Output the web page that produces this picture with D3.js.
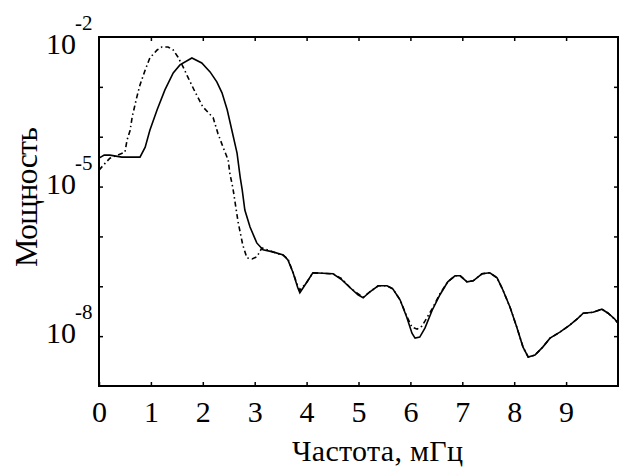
<!DOCTYPE html>
<html>
<head>
<meta charset="utf-8">
<script src="https://cdn.jsdelivr.net/npm/d3@7"></script>
<style>
  body { margin: 0; background: #fff; }
  text { font-family: "Liberation Serif", "Times New Roman", serif; fill: #000; }
</style>
</head>
<body>
<svg id="chart"></svg>
<script>
// frequency (MHz) and log10 of power
const freqSolid = [0.00, 0.10, 0.21, 0.44, 0.79, 0.89, 0.98, 1.12, 1.27, 1.43, 1.56, 1.79, 1.98, 2.14, 2.27,
  2.37, 2.47, 2.56, 2.66, 2.72, 2.76, 2.81, 2.91, 3.04, 3.16, 3.35, 3.55, 3.64, 3.74, 3.83, 3.87, 4.01,
  4.12, 4.51, 4.68, 4.84, 4.99, 5.09, 5.22, 5.38, 5.55, 5.66, 5.80, 5.93, 6.03, 6.09, 6.18, 6.28, 6.42,
  6.57, 6.72, 6.86, 6.96, 7.09, 7.21, 7.38, 7.53, 7.67, 7.78, 7.92, 8.05, 8.17, 8.27, 8.40, 8.55, 8.69,
  8.88, 9.07, 9.23, 9.33, 9.52, 9.69, 9.81, 9.94, 10.0];
const powSolid = [-4.43, -4.37, -4.37, -4.41, -4.41, -4.21, -3.87, -3.46, -3.06, -2.72, -2.56, -2.42, -2.52, -2.70, -2.90,
  -3.12, -3.46, -3.87, -4.33, -4.81, -5.07, -5.47, -5.81, -6.13, -6.27, -6.31, -6.37, -6.47, -6.73, -7.03, -7.13, -6.91,
  -6.73, -6.75, -6.87, -7.03, -7.17, -7.23, -7.11, -6.99, -6.99, -7.05, -7.27, -7.62, -7.94, -8.04, -8.02, -7.84, -7.48,
  -7.17, -6.91, -6.79, -6.79, -6.91, -6.89, -6.75, -6.73, -6.83, -7.07, -7.42, -7.82, -8.22, -8.42, -8.38, -8.22, -8.04,
  -7.92, -7.78, -7.64, -7.54, -7.52, -7.46, -7.54, -7.66, -7.74];

const freqDash = [0.00, 0.12, 0.21, 0.50, 0.54, 0.60, 0.64, 0.73, 0.79, 0.89, 0.98, 1.12, 1.21, 1.33, 1.43, 1.52,
  1.62, 1.71, 1.85, 2.00, 2.20, 2.29, 2.39, 2.49, 2.52, 2.58, 2.68, 2.77, 2.85, 2.95, 3.04, 3.14, 3.35, 3.55,
  3.64, 3.74, 3.83, 3.87, 4.01, 4.12, 4.51, 4.68, 4.84, 4.99, 5.09, 5.22, 5.38, 5.55, 5.66, 5.80, 5.93, 6.03,
  6.13, 6.22, 6.28, 6.42, 6.57, 6.72, 6.86, 6.96, 7.09, 7.21, 7.38, 7.53, 7.67, 7.78, 7.92, 8.05, 8.17, 8.27,
  8.40, 8.55, 8.69, 8.88, 9.07, 9.23, 9.33, 9.52, 9.69, 9.81, 9.94, 10.0];
const powDash = [-4.67, -4.53, -4.43, -4.31, -4.07, -3.87, -3.60, -3.20, -2.96, -2.66, -2.42, -2.26, -2.20, -2.20, -2.26, -2.40,
  -2.60, -2.80, -3.10, -3.40, -3.62, -3.93, -4.21, -4.47, -4.73, -5.03, -5.71, -6.17, -6.43, -6.45, -6.41, -6.23, -6.31, -6.38,
  -6.45, -6.73, -7.00, -7.08, -6.91, -6.73, -6.75, -6.85, -7.03, -7.15, -7.22, -7.11, -6.99, -6.99, -7.05, -7.27, -7.60, -7.82,
  -7.86, -7.80, -7.70, -7.45, -7.15, -6.91, -6.79, -6.79, -6.91, -6.89, -6.75, -6.73, -6.83, -7.07, -7.42, -7.82, -8.22, -8.42,
  -8.38, -8.22, -8.04, -7.92, -7.78, -7.64, -7.54, -7.52, -7.46, -7.54, -7.66, -7.74];

const xTicks = [0, 1, 2, 3, 4, 5, 6, 7, 8, 9];
const yDecades = [-8, -7, -6, -5, -4, -3];
const yLabelExp = [-2, -5, -8];

const width = 619, height = 469;
const plot = { left: 99, right: 618, top: 37, bottom: 386 };

const svg = d3.select('#chart').attr('width', width).attr('height', height);

const x = d3.scaleLinear().domain([0, 10]).range([plot.left, plot.right]);
const y = d3.scaleLog().domain([1e-9, 1e-2]).range([plot.bottom, plot.top]);

// frame
svg.append('rect')
  .attr('x', plot.left).attr('y', plot.top)
  .attr('width', plot.right - plot.left).attr('height', plot.bottom - plot.top)
  .attr('fill', 'none').attr('stroke', '#000').attr('stroke-width', 2);

// bottom axis with inward ticks
const xAxis = svg.append('g')
  .attr('transform', `translate(0,${plot.bottom})`)
  .call(d3.axisBottom(x).tickValues(xTicks).tickSizeInner(-4).tickSizeOuter(0).tickPadding(15).tickFormat(d3.format('d')));
xAxis.selectAll('text').attr('font-size', 30).attr('font-family', '"Liberation Serif", serif');

svg.append('g')
  .attr('transform', `translate(0,${plot.top})`)
  .call(d3.axisTop(x).tickValues(xTicks.slice(1)).tickSizeInner(-4).tickSizeOuter(0).tickFormat(''));

const decades = yDecades.map((e) => Math.pow(10, e));
svg.append('g')
  .attr('transform', `translate(${plot.left},0)`)
  .call(d3.axisLeft(y).tickValues(decades).tickSizeInner(-4).tickSizeOuter(0).tickFormat(''));
svg.append('g')
  .attr('transform', `translate(${plot.right},0)`)
  .call(d3.axisRight(y).tickValues(decades).tickSizeInner(-4).tickSizeOuter(0).tickFormat(''));

svg.selectAll('.domain').attr('stroke', 'none');
svg.selectAll('.tick line').attr('stroke-width', 1.5);

// y labels as 10 with superscript exponent
yLabelExp.forEach((e) => {
  const ty = Math.max(y(Math.pow(10, e)), plot.top + 10);
  svg.append('text')
    .attr('x', 76).attr('y', ty + 7)
    .attr('text-anchor', 'end')
    .attr('font-size', 30)
    .text('10');
  svg.append('text')
    .attr('x', 75).attr('y', ty - 17)
    .attr('font-size', 21)
    .text(String(e));
});

// axis titles
svg.append('text')
  .attr('x', 292).attr('y', 461)
  .attr('font-size', 30)
  .attr('textLength', 171)
  .text('Частота, мГц');

svg.append('text')
  .attr('transform', 'translate(37,197) rotate(-90)')
  .attr('text-anchor', 'middle')
  .attr('font-size', 32)
  .attr('textLength', 140)
  .text('Мощность');

// curves
const line = d3.line()
  .x((d) => x(d[0]))
  .y((d) => y(Math.pow(10, d[1])));

svg.append('path')
  .datum(freqSolid.map((f, i) => [f, powSolid[i]]))
  .attr('d', line)
  .attr('fill', 'none')
  .attr('stroke', '#000')
  .attr('stroke-width', 1.6);

svg.append('path')
  .datum(freqDash.map((f, i) => [f, powDash[i]]))
  .attr('d', line)
  .attr('fill', 'none')
  .attr('stroke', '#000')
  .attr('stroke-width', 1.6)
  .attr('stroke-dasharray', '5,3,1.5,3');
</script>
</body>
</html>
